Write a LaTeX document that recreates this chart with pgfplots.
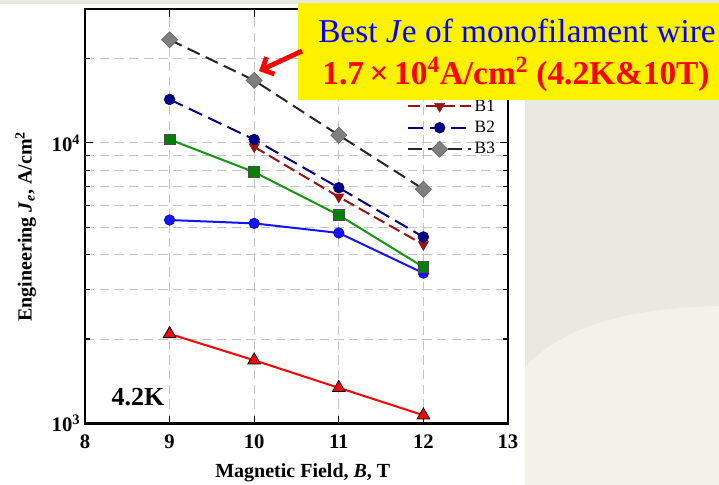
\documentclass[border=0pt]{standalone}
\usepackage{fontspec}
\setmainfont{Liberation Serif}
\usepackage{pgfplots}
\pgfplotsset{compat=1.18}
\usetikzlibrary{arrows.meta}
\definecolor{bgA}{RGB}{233,233,226}
\definecolor{bgB}{RGB}{242,242,234}
\definecolor{darkred}{RGB}{150,20,20}
\definecolor{navyb}{RGB}{0,0,128}
\definecolor{brightblue}{RGB}{20,20,255}
\definecolor{grn}{RGB}{20,150,20}
\definecolor{grnfill}{RGB}{0,128,0}
\definecolor{gridc}{RGB}{195,195,195}
\definecolor{diam}{RGB}{128,128,128}
\begin{document}
\begin{tikzpicture}
\path[use as bounding box] (0,0) rectangle (539.25pt,363.75pt);
\begin{scope}[yshift=363.75pt,x=0.75pt,y=-0.75pt]
\fill[bgA] (0,0) rectangle (719,485);
\fill[bgB] (525,367) .. controls (560,330) and (620,308) .. (719,306) -- (719,485) -- (525,485) -- cycle;
\fill[white] (0,4) rectangle (525,485);
\end{scope}
\begin{axis}[
  at={(63.75pt,46.125pt)}, anchor=south west, scale only axis,
  width=317.25pt, height=310.875pt,
  xmin=8, xmax=13, ymin=1000, ymax=30000, ymode=log,
  xtick={8,9,10,11,12,13}, xticklabels={8,9,10,11,12,13},
  ytick={1000,10000},
  yticklabels={\textbf{10}\textsuperscript{3},\textbf{10}\textsuperscript{4}},
  minor ytick={2000,3000,4000,5000,6000,7000,8000,9000,20000},
  grid=both,
  major grid style={gridc, dash pattern=on 7pt off 4pt, line width=0.7pt},
  minor grid style={gridc, dash pattern=on 7pt off 4pt, line width=0.7pt},
  axis line style={line width=1.6pt},
  tick align=inside, major tick length=6pt, minor tick length=3.75pt,
  tick style={black, line width=0.8pt},
  ticklabel style={font=\fontsize{15.5}{18}\selectfont\bfseries},
  xticklabel style={yshift=-5pt},
  xlabel={Magnetic Field, \textit{B}, T},
  ylabel={Engineering \textit{J}\textsubscript{\textit{e}}, A/cm\textsuperscript{2}},
  label style={font=\fontsize{15}{18}\selectfont\bfseries},
  xlabel style={at={(axis description cs:0.515,-0.118)}, anchor=center},
  ylabel style={at={(axis description cs:-0.14,0.475)}, anchor=center},
  legend style={draw=none, fill=none, font=\fontsize{13}{15}\selectfont,
    at={(axis description cs:0.752,0.795)}, anchor=north west, row sep=2pt},
  legend cell align=left,
  legend image code/.code={\draw[mark repeat=2,mark phase=2,#1] plot coordinates {(0pt,0pt) (23.5pt,0pt) (47pt,0pt)};},
]
\addplot[red, line width=1.5pt, mark=triangle*, mark size=5.5pt,
  mark options={solid, draw=black, fill=red, line width=0.6pt}, forget plot]
  coordinates {(9,2085) (10,1680) (11,1340) (12,1070)};
\addplot[brightblue, line width=1.5pt, mark=*, mark size=3.9pt,
  mark options={solid, draw=brightblue!70!black, fill=brightblue, line width=0.6pt}, forget plot]
  coordinates {(9,5310) (10,5165) (11,4775) (12,3435)};
\addplot[grn, line width=1.5pt, mark=square*, mark size=4pt,
  mark options={solid, draw=black!70, fill=grnfill, line width=0.6pt}, forget plot]
  coordinates {(9,10280) (10,7870) (11,5530) (12,3610)};
\addplot[darkred, line width=1.5pt, dash pattern=on 9pt off 4pt, mark=triangle*, mark size=4.3pt,
  mark options={solid, rotate=180, draw=darkred, fill=darkred, line width=0.5pt}]
  coordinates {(10,9680) (11,6420) (12,4340)};
\addlegendentry{B1}
\addplot[navyb, line width=1.5pt, dash pattern=on 11pt off 5pt, mark=*, mark size=4pt,
  mark options={solid, draw=navyb, fill=navyb, line width=0.5pt}]
  coordinates {(9,14280) (10,10280) (11,6920) (12,4620)};
\addlegendentry{B2}
\addplot[black!85, line width=1.5pt, dash pattern=on 10pt off 5pt, mark=square*, mark size=4.25pt,
  mark options={solid, rotate=45, draw=black!60, fill=diam, line width=0.5pt}]
  coordinates {(9,23300) (10,16700) (11,10650) (12,6840)};
\addlegendentry{B3}
\end{axis}
\begin{scope}[yshift=363.75pt,x=0.75pt,y=-0.75pt]
\node[font=\fontsize{19.5}{22}\selectfont\bfseries] at (138,397) {4.2K};
\fill[yellow] (298,3) rectangle (719,100);
\node[anchor=base, text=blue, font=\fontsize{25}{30}\selectfont, inner sep=0pt] at (517,43) {Best \textit{J}e of monofilament wire};
\node[anchor=base, text=red, font=\fontsize{25}{30}\selectfont\bfseries, inner sep=0pt] at (516,85) {1.7\,×\,10\textsuperscript{4}A/cm\textsuperscript{2} (4.2K\&10T)};
\draw[red, line width=3.6pt, -{Straight Barb[length=7pt, width=14pt]}] (302,51) -- (259,71);
\end{scope}
\end{tikzpicture}
\end{document}
